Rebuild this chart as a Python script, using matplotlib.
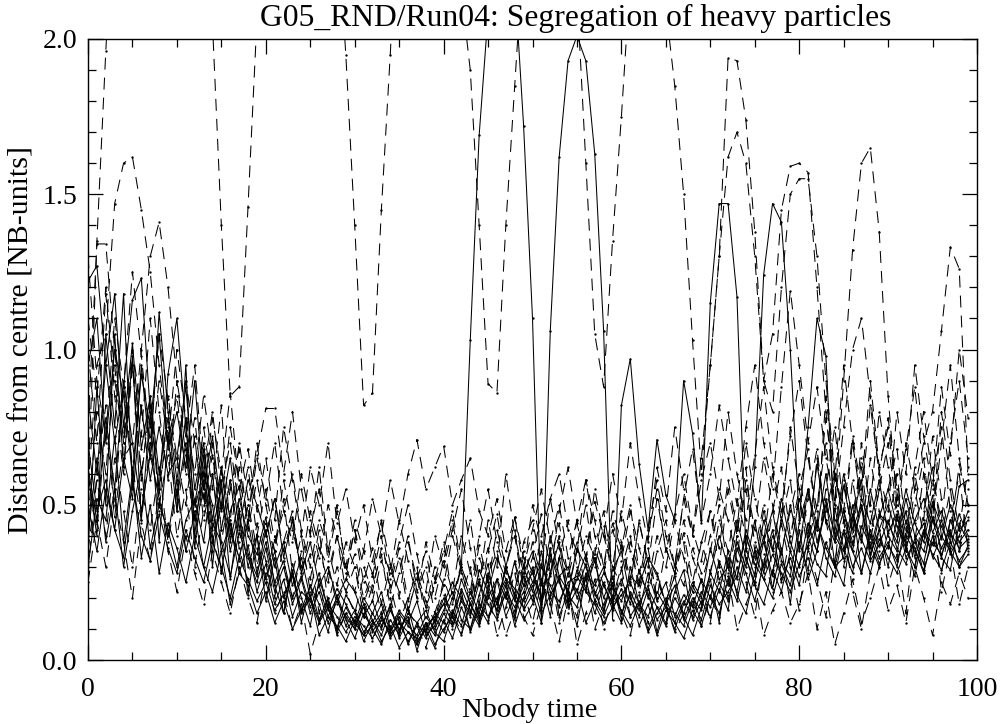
import numpy as np
import matplotlib
matplotlib.use("Agg")
import matplotlib.pyplot as plt
from matplotlib.ticker import MultipleLocator, FormatStrFormatter

plt.rcParams['font.family'] = ['Liberation Serif', 'DejaVu Serif']
plt.rcParams['lines.scale_dashes'] = False

# ---- data: distance from centre (hundredths of NB-units), one value per Nbody time unit ----
time = np.arange(100)

s1 = [62, 45, 78, 55, 90, 70, 48, 66, 52, 40,
      58, 35, 47, 30, 44, 38, 27, 41, 33, 25,
      36, 22, 30, 18, 26, 15, 22, 12, 19, 14,
      10, 17, 9, 14, 8, 12, 6, 11, 9, 15,
      12, 20, 30, 103, 169, 208, 230, 230, 219, 172,
      110, 12, 106, 162, 193, 201, 193, 163, 106, 13,
      82, 97, 63, 42, 71, 53, 45, 90, 73, 44,
      115, 147, 147, 117, 35, 62, 124, 147, 141, 100,
      45, 75, 110, 98, 40, 35, 50, 28, 42, 33,
      38, 30, 45, 36, 28, 40, 33, 45, 38, 42]
s2 = [85, 60, 95, 70, 88, 116, 123, 80, 55, 92,
      110, 75, 50, 68, 42, 55, 35, 48, 30, 40,
      26, 35, 20, 28, 16, 24, 13, 20, 10, 17,
      12, 8, 15, 10, 18, 7, 13, 5, 10, 14,
      9, 16, 11, 22, 15, 28, 18, 25, 14, 30,
      22, 35, 18, 27, 30, 20, 26, 15, 24, 18,
      12, 22, 16, 28, 19, 25, 14, 21, 17, 26,
      20, 32, 24, 38, 30, 45, 28, 40, 34, 50,
      36, 55, 42, 60, 38, 48, 35, 52, 44, 58,
      40, 35, 48, 33, 42, 37, 45, 34, 40, 48]
s3 = [122, 127, 95, 118, 75, 102, 68, 85, 60, 78,
      52, 70, 45, 58, 38, 50, 42, 33, 45, 28,
      38, 25, 32, 20, 27, 17, 24, 14, 20, 11,
      16, 9, 13, 6, 11, 4, 9, 7, 12, 5,
      10, 14, 8, 18, 12, 24, 16, 21, 13, 27,
      19, 30, 24, 17, 28, 22, 31, 19, 25, 16,
      23, 14, 19, 10, 17, 12, 20, 15, 24, 18,
      28, 22, 35, 26, 42, 33, 38, 27, 46, 35,
      52, 40, 63, 45, 38, 56, 42, 50, 36, 47,
      44, 38, 52, 40, 35, 46, 39, 50, 42, 45]
s4 = [40, 65, 38, 55, 30, 48, 62, 36, 50, 42,
      30, 45, 52, 38, 60, 35, 44, 28, 37, 22,
      31, 18, 26, 14, 22, 19, 12, 17, 9, 15,
      11, 18, 13, 8, 16, 10, 14, 3, 12, 8,
      15, 11, 19, 14, 25, 18, 13, 22, 17, 24,
      28, 20, 34, 25, 18, 29, 23, 32, 20, 27,
      15, 21, 11, 18, 8, 16, 12, 19, 14, 22,
      17, 25, 19, 30, 22, 35, 26, 20, 31, 24,
      38, 29, 45, 33, 27, 41, 30, 36, 28, 39,
      33, 28, 36, 30, 41, 34, 29, 38, 32, 36]
s5 = [95, 110, 70, 100, 85, 60, 92, 75, 105, 68,
      80, 62, 90, 55, 72, 48, 65, 42, 58, 50,
      40, 52, 33, 45, 28, 38, 24, 30, 20, 26,
      22, 14, 19, 11, 17, 9, 15, 12, 7, 13,
      18, 25, 20, 15, 29, 22, 33, 26, 19, 28,
      35, 24, 40, 27, 22, 36, 30, 21, 28, 23,
      19, 27, 24, 33, 28, 18, 24, 13, 20, 16,
      28, 40, 30, 22, 36, 27, 45, 35, 52, 38,
      30, 44, 35, 50, 41, 60, 46, 38, 55, 42,
      50, 40, 55, 44, 38, 51, 43, 36, 47, 40]
s6 = [30, 52, 45, 72, 38, 60, 33, 50, 28, 44,
      36, 25, 40, 30, 22, 35, 18, 28, 24, 15,
      22, 12, 19, 10, 16, 21, 8, 14, 11, 6,
      13, 8, 11, 15, 7, 12, 9, 5, 11, 14,
      18, 12, 23, 16, 11, 20, 26, 14, 21, 17,
      24, 15, 21, 26, 17, 23, 12, 19, 14, 21,
      16, 11, 18, 9, 15, 20, 12, 7, 16, 11,
      21, 15, 26, 19, 33, 24, 18, 29, 22, 35,
      27, 33, 24, 38, 30, 42, 35, 28, 40, 31,
      37, 32, 40, 35, 29, 38, 34, 41, 36, 39]
s7 = [70, 48, 58, 42, 65, 52, 82, 58, 75, 60,
      65, 88, 55, 70, 45, 62, 38, 52, 40, 34,
      46, 30, 38, 24, 33, 20, 28, 16, 23, 18,
      12, 20, 15, 22, 10, 16, 12, 19, 8, 11,
      20, 14, 26, 18, 13, 21, 16, 30, 20, 13,
      18, 26, 14, 33, 21, 17, 28, 24, 30, 19,
      26, 18, 29, 21, 13, 17, 10, 18, 25, 20,
      36, 26, 30, 45, 33, 25, 38, 48, 32, 27,
      44, 55, 38, 48, 60, 45, 37, 49, 33, 46,
      55, 43, 36, 45, 52, 41, 48, 38, 56, 58]
s8 = [50, 35, 55, 42, 33, 58, 40, 32, 47, 36,
      28, 42, 33, 25, 38, 30, 20, 33, 26, 19,
      25, 16, 21, 27, 15, 20, 13, 18, 14, 9,
      14, 11, 7, 13, 9, 15, 11, 8, 14, 10,
      16, 22, 13, 10, 18, 14, 20, 26, 23, 19,
      25, 31, 22, 19, 25, 27, 22, 18, 12, 17,
      21, 25, 18, 14, 22, 17, 15, 11, 19, 13,
      24, 18, 22, 27, 40, 31, 26, 34, 28, 22,
      31, 37, 44, 36, 30, 33, 47, 39, 32, 37,
      45, 36, 31, 39, 44, 33, 40, 35, 30, 34]
s9 = [35, 88, 50, 105, 62, 98, 45, 80, 38, 72,
      48, 95, 40, 66, 30, 58, 26, 47, 21, 40,
      19, 33, 15, 29, 12, 24, 18, 9, 21, 13,
      7, 15, 10, 5, 13, 8, 17, 6, 10, 4,
      13, 7, 17, 10, 21, 31, 14, 24, 11, 20,
      29, 17, 36, 14, 22, 11, 27, 33, 16, 25,
      13, 30, 18, 24, 9, 19, 27, 14, 8, 17,
      26, 12, 33, 21, 15, 28, 40, 23, 36, 18,
      42, 26, 35, 52, 31, 24, 45, 58, 34, 42,
      30, 46, 37, 27, 41, 53, 33, 29, 44, 38]
s10 = [60, 40, 105, 75, 118, 55, 95, 65, 112, 80,
       58, 78, 36, 60, 50, 28, 48, 56, 34, 27,
       42, 24, 15, 31, 20, 11, 26, 17, 10, 21,
       16, 6, 12, 18, 9, 14, 5, 12, 16, 9,
       6, 15, 22, 9, 17, 12, 26, 20, 32, 16,
       21, 12, 28, 38, 19, 26, 34, 22, 15, 29,
       35, 20, 14, 23, 17, 11, 22, 29, 13, 19,
       14, 23, 16, 36, 28, 19, 31, 42, 26, 33,
       24, 40, 31, 27, 49, 36, 28, 43, 37, 30,
       41, 47, 33, 38, 31, 45, 36, 42, 30, 37]

d1 = [55, 135, 196, 250, 300, 300, 300, 300, 300, 300,
      300, 300, 290, 250, 205, 140, 85, 88, 146, 206,
      262, 300, 300, 300, 300, 300, 300, 280, 240, 195,
      140, 82, 86, 145, 195, 250, 300, 300, 300, 300,
      290, 260, 215, 190, 140, 89, 86, 140, 185, 230,
      270, 300, 300, 300, 260, 215, 160, 105, 88, 135,
      175, 220, 240, 240, 230, 210, 185, 150, 103, 60,
      95, 130, 194, 193, 174, 138, 90, 105, 145, 159,
      160, 157, 120, 80, 50, 90, 132, 160, 165, 138,
      85, 50, 35, 55, 70, 80, 106, 133, 126, 60]
d2 = [55, 95, 105, 147, 160, 162, 145, 125, 95, 70,
      85, 60, 78, 50, 66, 42, 58, 38, 50, 30,
      44, 35, 52, 28, 40, 22, 36, 30, 18, 26,
      34, 20, 28, 15, 24, 36, 19, 30, 12, 25,
      38, 20, 31, 45, 26, 36, 18, 30, 42, 24,
      33, 47, 28, 40, 22, 35, 50, 30, 43, 26,
      37, 24, 45, 30, 52, 36, 28, 41, 25, 38,
      48, 30, 55, 40, 62, 35, 50, 28, 45, 58,
      35, 52, 68, 44, 58, 30, 47, 62, 40, 55,
      70, 48, 38, 60, 45, 72, 52, 40, 63, 50]
d3 = [100, 70, 118, 85, 60, 95, 72, 110, 80, 58,
      90, 66, 48, 75, 55, 82, 40, 62, 45, 70,
      50, 35, 58, 42, 30, 48, 36, 25, 40, 30,
      22, 35, 28, 45, 31, 20, 38, 26, 17, 30,
      24, 40, 29, 18, 33, 25, 42, 30, 21, 35,
      28, 19, 32, 44, 27, 38, 22, 34, 48, 30,
      24, 38, 29, 20, 35, 45, 30, 52, 40, 65,
      95, 130, 162, 170, 160, 130, 90, 80, 120, 150,
      155, 155, 130, 90, 60, 45, 70, 50, 38, 55,
      42, 60, 35, 50, 65, 40, 28, 45, 60, 35]
d4 = [75, 134, 134, 100, 70, 95, 60, 82, 55, 75,
      48, 68, 40, 55, 35, 62, 45, 70, 52, 66,
      81, 81, 60, 80, 55, 40, 62, 35, 50, 28,
      42, 25, 36, 18, 30, 22, 15, 28, 19, 12,
      26, 18, 30, 22, 14, 27, 35, 20, 31, 24,
      38, 26, 20, 33, 45, 30, 24, 36, 28, 42,
      32, 48, 36, 25, 40, 30, 45, 33, 22, 38,
      28, 45, 35, 52, 40, 30, 48, 36, 25, 40,
      55, 38, 50, 70, 45, 32, 58, 40, 65, 48,
      36, 52, 44, 30, 48, 62, 40, 55, 35, 46]
d5 = [45, 80, 60, 95, 65, 70, 100, 130, 141, 120,
      90, 72, 95, 60, 80, 55, 70, 48, 62, 40,
      55, 38, 48, 60, 42, 30, 45, 36, 24, 38,
      30, 18, 27, 40, 22, 33, 16, 26, 35, 20,
      32, 45, 28, 20, 37, 25, 18, 30, 40, 22,
      30, 20, 36, 26, 15, 28, 40, 33, 24, 18,
      29, 40, 22, 33, 27, 18, 31, 24, 36, 28,
      40, 55, 45, 32, 58, 42, 65, 50, 35, 48,
      60, 42, 35, 55, 75, 48, 38, 65, 50, 80,
      62, 45, 70, 55, 40, 58, 75, 48, 35, 55]
d6 = [60, 42, 75, 50, 88, 62, 45, 70, 48, 85,
      65, 50, 72, 45, 60, 38, 55, 68, 42, 58,
      40, 52, 35, 46, 28, 42, 55, 32, 48, 30,
      45, 35, 52, 40, 58, 44, 60, 71, 55, 62,
      69, 50, 58, 65, 48, 40, 52, 35, 46, 30,
      42, 55, 38, 50, 33, 45, 58, 40, 30, 44,
      36, 50, 28, 40, 55, 35, 47, 60, 42, 32,
      48, 36, 58, 42, 70, 52, 38, 60, 45, 75,
      55, 68, 42, 85, 60, 48, 72, 55, 90, 62,
      75, 52, 68, 88, 60, 45, 70, 95, 65, 50]
d7 = [25, 45, 30, 52, 38, 20, 44, 32, 55, 35,
      22, 40, 28, 18, 35, 25, 15, 30, 20, 12,
      28, 15, 22, 10, 18, 2, 12, 20, 8, 15,
      10, 18, 6, 14, 20, 9, 16, 11, 4, 13,
      21, 15, 9, 18, 26, 13, 20, 8, 16, 22,
      12, 25, 18, 6, 20, 14, 27, 10, 18, 24,
      15, 8, 21, 12, 26, 18, 9, 15, 22, 11,
      20, 14, 27, 10, 18, 25, 8, 16, 22, 12,
      18, 28, 10, 22, 5, 15, 26, 12, 20, 30,
      16, 24, 12, 30, 20, 8, 25, 18, 28, 20]
d8 = [110, 85, 120, 90, 72, 100, 80, 65, 90, 70,
      100, 78, 60, 85, 65, 50, 75, 58, 45, 65,
      52, 70, 48, 38, 60, 45, 33, 50, 40, 28,
      42, 30, 22, 36, 28, 45, 32, 20, 38, 26,
      35, 48, 30, 22, 40, 55, 38, 28, 46, 33,
      25, 40, 52, 36, 28, 45, 33, 55, 40, 30,
      48, 35, 25, 42, 58, 40, 30, 52, 68, 45,
      60, 82, 65, 50, 75, 95, 70, 55, 88, 119,
      95, 70, 88, 65, 50, 75, 100, 110, 85, 60,
      78, 55, 40, 62, 80, 58, 45, 70, 90, 65]
d9 = [35, 58, 40, 65, 48, 30, 55, 42, 62, 38,
      55, 35, 48, 62, 40, 28, 45, 32, 50, 36,
      25, 40, 30, 20, 35, 26, 42, 18, 30, 22,
      15, 27, 19, 32, 24, 12, 20, 28, 17, 25,
      32, 22, 40, 28, 18, 35, 47, 30, 22, 38,
      45, 30, 52, 60, 42, 35, 58, 45, 30, 48,
      38, 26, 44, 32, 20, 36, 28, 45, 33, 25,
      35, 50, 28, 42, 55, 38, 30, 48, 62, 40,
      52, 35, 65, 45, 30, 58, 40, 70, 48, 35,
      55, 68, 42, 38, 60, 45, 80, 58, 42, 62]
d10 = [130, 90, 72, 110, 88, 125, 98, 70, 105, 84,
       62, 90, 70, 52, 78, 60, 86, 55, 68, 48,
       65, 45, 75, 58, 40, 62, 50, 70, 44, 55,
       38, 50, 32, 44, 26, 38, 50, 34, 22, 40,
       30, 42, 55, 36, 24, 45, 30, 60, 40, 28,
       50, 38, 27, 48, 62, 44, 32, 51, 40, 60,
       45, 70, 52, 38, 62, 48, 75, 55, 40, 58,
       70, 52, 80, 60, 45, 66, 88, 62, 48, 72,
       90, 65, 48, 78, 58, 95, 70, 52, 82, 60,
       48, 80, 60, 95, 72, 55, 88, 66, 100, 78]
d11 = [28, 60, 82, 46, 70, 95, 58, 85, 50, 66,
       40, 55, 30, 48, 70, 42, 58, 36, 25, 44,
       32, 20, 38, 48, 26, 34, 15, 28, 40, 22,
       30, 14, 24, 34, 17, 28, 40, 22, 30, 15,
       24, 10, 20, 30, 12, 22, 8, 17, 28, 14,
       8, 18, 28, 12, 24, 5, 15, 26, 10, 20,
       30, 14, 25, 36, 20, 12, 28, 38, 17, 26,
       12, 30, 20, 40, 25, 14, 34, 22, 44, 30,
       16, 36, 26, 14, 32, 45, 22, 10, 28, 42,
       24, 34, 15, 40, 28, 50, 22, 36, 18, 30]

solid_series = [s1, s2, s3, s4, s5, s6, s7, s8, s9, s10]
dashed_series = [d1, d2, d3, d4, d5, d6, d7, d8, d9, d10, d11]

title = "G05_RND/Run04: Segregation of heavy particles"
xlabel = "Nbody time"
ylabel = "Distance from centre [NB-units]"

# ---- figure ----
W, H = 1001, 724
fig = plt.figure(figsize=(W / 100, H / 100), dpi=100)
ax = fig.add_axes([88 / W, 1 - 660 / H, (977 - 88) / W, (660 - 39) / H])

for s in dashed_series:
    ln, = ax.plot(time, np.array(s) / 100.0, color='black', lw=0.75,
                  marker='.', ms=1.4)
    ln.set_dashes((8.6, 5.8))
for s in solid_series:
    ax.plot(time, np.array(s) / 100.0, color='black', lw=0.75,
            marker='.', ms=1.4)

ax.set_xlim(0, 100)
ax.set_ylim(0, 2.0)
ax.xaxis.set_major_locator(MultipleLocator(20))
ax.xaxis.set_minor_locator(MultipleLocator(5))
ax.yaxis.set_major_locator(MultipleLocator(0.5))
ax.yaxis.set_minor_locator(MultipleLocator(0.1))
ax.yaxis.set_major_formatter(FormatStrFormatter('%.1f'))
ax.tick_params(which='both', direction='in', top=True, right=True, width=0.9,
               color='black', labelsize=20)
ax.tick_params(which='major', length=10.5)
ax.tick_params(which='minor', length=5.5)
ax.tick_params(axis='x', which='major', pad=12)
ax.tick_params(axis='y', which='major', pad=8)
for sp in ax.spines.values():
    sp.set_linewidth(1.0)

fig.text(576 / W, 1 - 26 / H, title, ha='center', va='baseline', fontsize=22.8)
fig.text(530 / W, 1 - 717 / H, xlabel, ha='center', va='baseline', fontsize=20.5)
fig.text(22 / W, 1 - 340 / H, ylabel, ha='center', va='center', rotation=90,
         fontsize=21.5)

fig.savefig("out.png", dpi=100)
